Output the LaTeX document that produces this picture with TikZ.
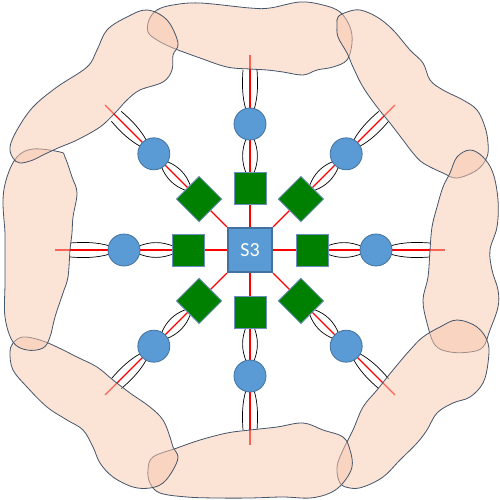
\documentclass[tikz,border=0pt]{standalone}
\usepackage{fontspec}
\newfontfamily\carlito{Carlito}
\usetikzlibrary{calc}
\definecolor{blobfill}{RGB}{247,199,173}
\definecolor{blobline}{RGB}{68,84,106}
\definecolor{cblue}{RGB}{91,155,213}
\definecolor{cborder}{RGB}{65,113,156}
\definecolor{gfill}{RGB}{0,128,0}
\definecolor{gborder}{RGB}{109,142,191}
\pgfdeclarelayer{background}
\pgfdeclarelayer{foreground}
\pgfsetlayers{background,main,foreground}
\newcommand\mylens[6]{%
  \foreach \s in {1,-1}{%
    \draw[lens] ($(cen)+(#1:#2)+(#1+90:\s*#4)$)
      .. controls ($(cen)+(#1:{#2+(#3-#2)/3})+(#1+90:\s*#5)$)
      and ($(cen)+(#1:{#2+2*(#3-#2)/3})+(#1+90:\s*#5)$)
      .. ($(cen)+(#1:#3)+(#1+90:\s*#6)$);
  }}
\begin{document}
\begin{tikzpicture}[x=1pt,y=-1pt,
  redline/.style={draw=red, line width=1.2pt},
  lens/.style={draw=black, line width=0.7pt},
  circ/.style={circle, fill=cblue, draw=cborder, line width=0.8pt, minimum size=32pt, inner sep=0pt},
  gsq/.style={rectangle, fill=gfill, draw=gborder, line width=0.8pt, minimum size=32pt, inner sep=0pt},
  hub/.style={rectangle, fill=cblue, draw=cborder, line width=2.2pt, minimum size=44pt, inner sep=0pt, text=white, font=\carlito\fontsize{20}{24}\selectfont},
  blob/.style={fill=blobfill, fill opacity=0.5, draw=blobline, line width=0.8pt}
]
\useasboundingbox (0,0) rectangle (500,500);
\coordinate (cen) at (250,250);
\node[hub] (s3) at (cen) {S3};
\foreach \k/\t/\ds/\dc/\rot/\ia/\ib/\oa/\ob/\re in {
  1/0/62/126/0/76/112/140/180/195,
  2/45/72/136/45/88/122/150/189/205,
  3/90/62/126/0/76/112/140/180/195,
  4/135/72/136/45/88/122/150/189/205,
  5/180/62/126/0/76/112/140/180/195,
  6/225/72/136/45/88/122/150/189/205,
  7/270/62/126/0/76/112/140/180/195,
  8/315/72/136/45/88/122/150/189/205}{
  \node[gsq, rotate=\rot] (sh\k) at ($(cen)+(\t:\ds)$) {};
  \node[circ] (c\k) at ($(cen)+(\t:\dc)$) {};
  \coordinate (e\k) at ($(cen)+(\t:\re)$);
  \begin{pgfonlayer}{background}
    \draw[redline] (s3) -- (e\k);
    \mylens{\t}{\ia}{\ib}{3.5}{8.7}{3.5}
    \mylens{\t}{\oa}{\ob}{4}{8}{7}
  \end{pgfonlayer}
}
\begin{pgfonlayer}{foreground}
\draw[blob] plot[smooth cycle, tension=0.6] coordinates {
(148,32) (157,40) (173,48) (200,58) (227,67) (250,69) (267,70) (283,72) (303,75) (317,70) (333,67) (347,60) (352,43) (350,27) (340,12) (323,5) (300,2) (270,8) (250,8) (200,3) (173,5) (157,10) (149,20)};
\draw[blob] plot[smooth cycle, tension=0.6] coordinates {
(338,17) (347,12) (360,10) (377,17) (393,30) (410,50) (423,63) (430,80) (443,90) (463,100) (477,110) (485,127) (488,143) (487,157) (477,170) (457,178) (443,173) (423,163) (413,153) (403,140) (390,123) (377,107) (363,87) (353,67) (347,53) (338,37) (337,25)};
\draw[blob] plot[smooth cycle, tension=0.6] coordinates {
(470,150) (483,157) (493,173) (498,200) (497,227) (490,250) (492,270) (498,290) (498,307) (490,330) (483,347) (470,352) (450,352) (435,345) (427,323) (423,300) (428,277) (430,250) (432,227) (437,207) (443,187) (450,173) (457,157)};
\draw[blob] plot[smooth cycle, tension=0.6] coordinates {
(457,320) (477,327) (488,343) (488,363) (483,383) (470,397) (453,403) (437,413) (427,430) (417,443) (400,460) (383,477) (363,487) (350,488) (340,483) (337,467) (343,450) (353,430) (363,407) (377,390) (393,370) (410,350) (423,337) (440,327)};
\draw[blob] plot[smooth cycle, tension=0.6] coordinates {
(153,457) (177,448) (200,440) (227,433) (250,430) (277,427) (303,423) (323,430) (343,437) (350,450) (352,467) (343,483) (330,493) (310,498) (283,497) (250,498) (217,498) (187,497) (160,493) (150,483) (148,470)};
\draw[blob] plot[smooth cycle, tension=0.6] coordinates {
(13,343) (23,337) (40,340) (57,347) (77,357) (97,367) (113,380) (130,393) (150,407) (163,420) (170,437) (173,447) (178,457) (173,470) (163,483) (150,488) (133,487) (113,477) (100,463) (93,447) (83,430) (67,420) (47,407) (27,387) (13,370) (10,353)};
\draw[blob] plot[smooth cycle, tension=0.6] coordinates {
(17,157) (33,149) (60,152) (65,157) (72,177) (77,193) (73,217) (72,233) (70,250) (68,277) (63,293) (55,317) (50,337) (43,348) (27,350) (13,342) (5,317) (5,283) (5,250) (5,233) (3,200) (7,177)};
\draw[blob] plot[smooth cycle, tension=0.6] coordinates {
(147,10) (167,20) (178,43) (173,55) (172,70) (163,82) (140,90) (127,100) (115,113) (100,127) (77,140) (58,148) (43,155) (33,160) (20,163) (13,158) (10,147) (17,130) (33,107) (57,87) (87,67) (97,50) (107,30) (127,17)};
\end{pgfonlayer}
\end{tikzpicture}
\end{document}
